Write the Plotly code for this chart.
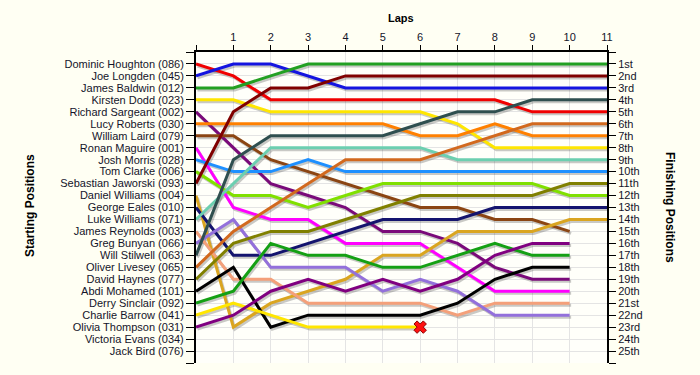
import plotly.graph_objects as go

laps = list(range(12))
lap_labels = [""] + [str(i) for i in range(1, 12)]

drivers = [
    "Dominic Houghton (086)", "Joe Longden (045)", "James Baldwin (012)",
    "Kirsten Dodd (023)", "Richard Sargeant (002)", "Lucy Roberts (030)",
    "William Laird (079)", "Ronan Maguire (001)", "Josh Morris (028)",
    "Tom Clarke (006)", "Sebastian Jaworski (093)", "Daniel Williams (004)",
    "George Eales (010)", "Luke Williams (071)", "James Reynolds (003)",
    "Greg Bunyan (066)", "Will Stilwell (063)", "Oliver Livesey (065)",
    "David Haynes (077)", "Abdi Mohamed (101)", "Derry Sinclair (092)",
    "Charlie Barrow (041)", "Olivia Thompson (031)", "Victoria Evans (034)",
    "Jack Bird (076)",
]
finish_labels = ["1st", "2nd", "3rd"] + [f"{i}th" for i in range(4, 21)] + \
    ["21st", "22nd", "23rd", "24th", "25th"]

# positions per lap (lap 0 = start)
pos_houghton = [1, 2, 4, 4, 4, 4, 4, 4, 4, 5, 5, 5]
pos_longden = [2, 1, 1, 2, 3, 3, 3, 3, 3, 3, 3, 3]
pos_baldwin = [3, 3, 2, 1, 1, 1, 1, 1, 1, 1, 1, 1]
pos_dodd = [4, 4, 5, 5, 5, 5, 5, 6, 8, 8, 8, 8]
pos_sargeant = [5, 8, 11, 12, 13, 15, 15, 16, 18, 19, 19]
pos_roberts = [6, 6, 6, 6, 6, 6, 7, 7, 6, 7, 7, 7]
pos_laird = [7, 7, 9, 10, 11, 12, 13, 13, 14, 14, 15]
pos_maguire = [8, 13, 14, 14, 16, 16, 16, 18, 20, 20, 20]
pos_morris = [9, 10, 10, 9, 10, 10, 10, 10, 10, 10, 10, 10]
pos_clarke = [10, 12, 12, 13, 12, 11, 11, 11, 11, 11, 12, 12]
pos_jaworski = [11, 5, 3, 3, 2, 2, 2, 2, 2, 2, 2, 2]
pos_dwilliams = [12, 23, 21, 20, 19, 17, 17, 15, 15, 15, 14, 14]
pos_eales = [13, 17, 17, 16, 15, 14, 14, 14, 13, 13, 13, 13]
pos_lwilliams = [14, 11, 8, 8, 8, 8, 8, 9, 9, 9, 9, 9]
pos_reynolds = [15, 19, 19, 21, 21, 21, 21, 22, 21, 21, 21]
pos_bunyan = [16, 14, 18, 18, 18, 20, 19, 20, 22, 22, 22]
pos_stilwell = [17, 9, 7, 7, 7, 7, 6, 5, 5, 4, 4, 4]
pos_livesey = [18, 15, 13, 11, 9, 9, 9, 8, 7, 6, 6, 6]
pos_haynes = [19, 16, 15, 15, 14, 13, 12, 12, 12, 12, 11, 11]
pos_mohamed = [20, 18, 23, 22, 22, 22, 22, 21, 19, 18, 18]
pos_sinclair = [21, 20, 16, 17, 17, 18, 18, 17, 16, 17, 17]
pos_barrow = [22, 21, 22, 23, 23, 23, 23]
pos_thompson = [23, 22, 20, 19, 20, 19, 20, 19, 17, 16, 16]

series = [pos_houghton, pos_longden, pos_baldwin, pos_dodd, pos_sargeant,
          pos_roberts, pos_laird, pos_maguire, pos_morris, pos_clarke,
          pos_jaworski, pos_dwilliams, pos_eales, pos_lwilliams, pos_reynolds,
          pos_bunyan, pos_stilwell, pos_livesey, pos_haynes, pos_mohamed,
          pos_sinclair, pos_barrow, pos_thompson]
colors = ["#F00000", "#1414E0", "#22A022", "#FFE600", "#7A0A7A",
          "#FF8000", "#8B4513", "#FF00FF", "#1E90FF", "#80E000",
          "#800000", "#DAA520", "#14146E", "#6CCFB0", "#F4A07A",
          "#9370DB", "#2F4F4F", "#D2691E", "#808000", "#000000",
          "#14A014", "#FFE600", "#800080"]

W, H = 700, 375
L, R, T, B = 196, 93, 52, 12
pw, ph = W - L - R, H - T - B
dx = 11 / pw * 1.5
dy = 26 / ph * 2.0

fig = go.Figure()
# shadows (on shifted base axes)
for s in series:
    fig.add_trace(go.Scatter(x=laps[:len(s)], y=s, mode="lines",
                             line=dict(color="rgba(60,60,60,0.28)", width=3),
                             xaxis="x", yaxis="y", hoverinfo="skip", showlegend=False))
# main lines
for name, s, c in zip(drivers, series, colors):
    fig.add_trace(go.Scatter(x=laps[:len(s)], y=s, mode="lines", name=name,
                             line=dict(color=c, width=3),
                             xaxis="x2", yaxis="y2", showlegend=False))
# retirement marker
fig.add_trace(go.Scatter(x=[laps[len(pos_barrow) - 1]], y=[pos_barrow[-1]], mode="markers",
                         marker=dict(symbol="x", size=11, color="#FF1010",
                                     line=dict(color="#900000", width=1)),
                         xaxis="x2", yaxis="y3", showlegend=False))

font = dict(family="Liberation Sans, Arial, sans-serif", size=11, color="#14142a")
fig.update_layout(
    width=W, height=H,
    margin=dict(l=L, r=R, t=T, b=B),
    paper_bgcolor="#FFFFF3", plot_bgcolor="#FFFFFA",
    font=font,
    xaxis=dict(range=[0 - dx, 11 - dx], visible=False, fixedrange=True),
    yaxis=dict(range=[26 - dy, 0 - dy], visible=False, fixedrange=True),
    xaxis2=dict(overlaying="x", side="top", anchor="y2", range=[0, 11],
                tickvals=laps, ticktext=lap_labels, ticks="outside", ticklen=5,
                tickcolor="black", showline=True, linecolor="black", linewidth=2,
                showgrid=True, gridcolor="#E4E4E4", gridwidth=1, zeroline=False,
                tickfont=font, fixedrange=True, automargin=False),
    yaxis2=dict(overlaying="y", side="left", anchor="x2", range=[26, 0],
                tickvals=list(range(27)), ticktext=[""] + drivers + [""],
                ticks="outside", ticklen=8, tickcolor="black",
                showline=True, linecolor="black", linewidth=2,
                showgrid=True, gridcolor="#E4E4E4", gridwidth=1, zeroline=False,
                tickfont=font, fixedrange=True, automargin=False),
    yaxis3=dict(overlaying="y", side="right", anchor="x2", range=[26, 0],
                tickvals=list(range(27)), ticktext=[""] + finish_labels + [""],
                ticks="outside", ticklen=7, tickcolor="black",
                showline=True, linecolor="black", linewidth=2,
                showgrid=False, zeroline=False,
                tickfont=font, fixedrange=True, automargin=False),
    annotations=[
        dict(text="<b>Laps</b>", xref="paper", yref="paper",
             x=(401 - L) / pw, y=(H - B - 18) / ph, showarrow=False,
             xanchor="center", yanchor="middle", font=dict(size=11, color="black")),
        dict(text="<b>Starting Positions</b>", xref="paper", yref="paper",
             x=(30 - L) / pw, y=(H - B - 206) / ph, showarrow=False, textangle=-90,
             xanchor="center", yanchor="middle", font=dict(size=12, color="black")),
        dict(text="<b>Finishing Positions</b>", xref="paper", yref="paper",
             x=(670 - L) / pw, y=(H - B - 207) / ph, showarrow=False, textangle=90,
             xanchor="center", yanchor="middle", font=dict(size=12, color="black")),
    ],
)

fig.write_html(
    "out.html",
    config={"displayModeBar": False},
    post_script="document.body.style.margin='0';document.body.style.background='#FFFFF3';"
                "document.documentElement.style.overflow='hidden';",
)
